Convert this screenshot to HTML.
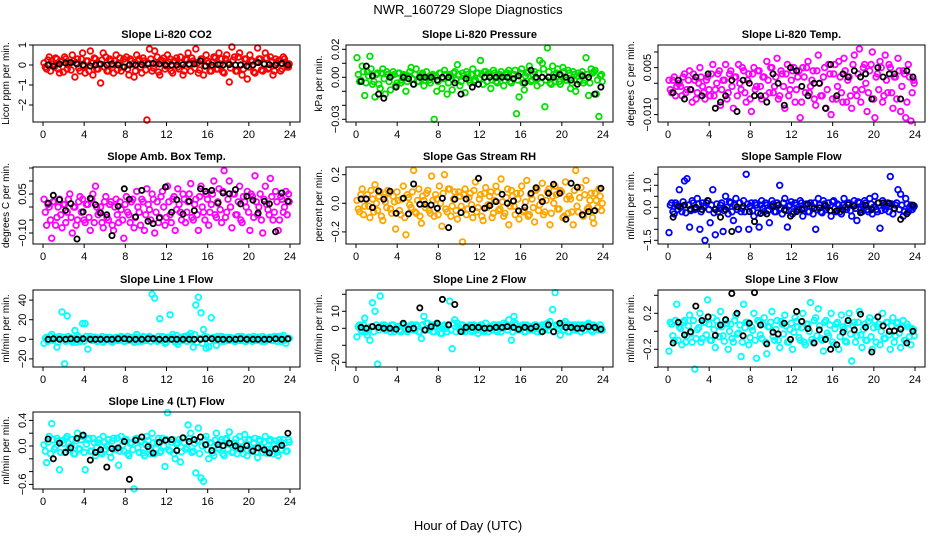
<!DOCTYPE html>
<html><head><meta charset="utf-8"><title>NWR_160729 Slope Diagnostics</title>
<style>
html,body{margin:0;padding:0;background:#fff;}
svg{display:block;font-family:"Liberation Sans","DejaVu Sans",sans-serif;}
</style></head>
<body>
<svg id="chart" width="936" height="540" viewBox="0 0 936 540" xmlns="http://www.w3.org/2000/svg">
<text x="468" y="14" text-anchor="middle" font-size="13">NWR_160729  Slope Diagnostics</text>
<text x="468" y="530" text-anchor="middle" font-size="13">Hour of Day (UTC)</text>
</svg>
<script>
const hours=[0.10,0.35,0.60,0.85,1.10,1.35,1.60,1.85,2.10,2.35,2.60,2.85,3.10,3.35,3.60,3.85,4.10,4.35,4.60,4.85,5.10,5.35,5.60,5.85,6.10,6.35,6.60,6.85,7.10,7.35,7.60,7.85,8.10,8.35,8.60,8.85,9.10,9.35,9.60,9.85,10.10,10.35,10.60,10.85,11.10,11.35,11.60,11.85,12.10,12.35,12.60,12.85,13.10,13.35,13.60,13.85,14.10,14.35,14.60,14.85,15.10,15.35,15.60,15.85,16.10,16.35,16.60,16.85,17.10,17.35,17.60,17.85,18.10,18.35,18.60,18.85,19.10,19.35,19.60,19.85,20.10,20.35,20.60,20.85,21.10,21.35,21.60,21.85,22.10,22.35,22.60,22.85,23.10,23.35,23.60,23.85];
const hours2=[0.22,0.48,0.73,0.97,1.22,1.47,1.73,1.98,2.22,2.47,2.73,2.98,3.22,3.47,3.73,3.98,4.22,4.47,4.73,4.98,5.22,5.47,5.73,5.98,6.22,6.47,6.73,6.98,7.22,7.47,7.73,7.98,8.22,8.47,8.73,8.98,9.22,9.47,9.73,9.98,10.22,10.47,10.73,10.98,11.22,11.47,11.73,11.98,12.22,12.47,12.73,12.98,13.22,13.47,13.73,13.98,14.22,14.47,14.73,14.98,15.22,15.47,15.73,15.98,16.22,16.47,16.73,16.98,17.22,17.47,17.73,17.98,18.22,18.47,18.73,18.98,19.22,19.47,19.73,19.98,20.22,20.47,20.73,20.98,21.22,21.47,21.73,21.98,22.22,22.47,22.73,22.98,23.22,23.47,23.73,23.92];
const blackHours=[0.5,1.0,1.6,2.2,2.7,3.3,3.9,4.6,5.1,5.6,6.2,6.7,7.3,7.9,8.4,9.0,9.6,10.2,10.7,11.3,11.9,12.5,13.0,13.6,14.2,14.7,15.3,15.8,16.4,17.0,17.5,18.1,18.7,19.2,19.8,20.4,20.9,21.5,22.0,22.6,23.2,23.8];
const xTicks=[0,4,8,12,16,20,24];

const co2=[0.1,-0.2,0.4,0.2,-0.1,0.3,-0.4,0.2,0.4,-0.2,0.1,0.5,-0.6,0.3,-0.3,0.6,-0.4,0.2,0.7,-0.5,0.3,-0.2,-0.9,0.6,0.4,-0.3,0.2,-0.4,0.5,0.1,-0.3,0.3,0.4,-0.5,0.2,-0.6,0.5,0.3,-0.4,0.2,-2.75,0.8,-0.3,0.7,0.4,-0.5,0.2,-0.2,0.5,0.3,-0.4,0.2,-0.1,0.4,-0.5,0.3,0.6,-0.3,0.2,0.8,-0.4,0.3,-0.5,0.5,0.1,-0.3,0.4,-0.2,0.6,0.3,-0.4,0.5,-0.85,0.9,0.4,-0.3,0.6,-0.5,0.3,-0.7,0.5,0.2,-0.4,0.85,0.3,-0.3,0.6,-0.2,0.4,-0.5,0.3,0.2,-0.3,0.4,0.1,-0.1];
const co2B=[-0.1,0.25,-0.3,0.05,0.35,-0.2,0.15,-0.35,0.3,0.0,-0.25,0.2,0.1,-0.15,0.3,-0.05,0.2,-0.3,0.1,0.35,-0.2,0.05,0.25,-0.1,-0.3,0.3,0.0,0.2,-0.25,0.35,-0.1,0.15,-0.2,0.3,0.05,-0.3,0.2,-0.1,0.35,-0.25,0.1,0.3,-0.15,0.05,-0.35,0.25,0.35,-0.05,0.15,-0.3,0.2,0.35,-0.2,0.1,-0.3,0.25,0.0,0.35,-0.15,0.1,-0.25,0.3,-0.05,0.2,-0.3,0.15,0.35,-0.2,0.05,-0.35,0.3,0.1,-0.15,0.25,-0.3,0.4,0.0,-0.2,0.3,-0.1,0.2,-0.35,0.15,0.3,-0.25,0.05,0.35,-0.15,0.2,-0.3,0.1,0.25,-0.2,0.3,-0.1,0.05];
const co2Black=[0,-0.05,0.05,0.1,0.12,0.05,0,-0.05,0,0.05,0,0.05,0,-0.1,0,0,0.02,0.05,0.08,0.05,0,0,0,0.02,0.05,0.05,0.2,-0.05,0,0.02,0,0.02,0,0,-0.05,0,0.12,0.05,0.02,0,0.08,0];

const press=[0.014,-0.003,0.008,-0.013,0.004,0.015,-0.005,-0.014,0.003,-0.008,0.006,-0.012,0.002,-0.009,0.004,-0.006,0.003,-0.004,0.002,-0.01,0.001,0.007,-0.005,0.006,-0.003,0.002,-0.006,0.004,-0.002,0.001,-0.03,-0.01,0.003,-0.008,0.005,-0.012,0.002,-0.009,0.004,0.009,-0.006,0.003,-0.011,0.002,-0.004,0.006,-0.002,0.003,0.012,-0.005,0.004,0.003,-0.008,0.005,-0.003,0.002,0.004,-0.006,0.003,0.005,-0.004,0.002,-0.026,-0.014,0.006,-0.009,0.003,0.008,-0.002,0.004,-0.006,0.012,0.01,-0.021,0.021,-0.004,0.008,-0.003,0.006,-0.005,0.007,-0.002,0.005,-0.008,0.004,-0.01,0.003,0.002,-0.004,0.014,-0.013,0.006,0.004,-0.012,-0.028,0.002];
const pressB=[0.002,-0.002,0.004,-0.004,0.001,0.006,-0.003,0.002,-0.005,0.003,-0.001,0.004,-0.003,0.001,0.002,-0.004,0.003,-0.002,0.001,-0.003,0.004,-0.001,0.002,-0.003,0.001,0.003,-0.002,0.0,-0.004,0.002,0.001,-0.003,0.003,-0.001,0.002,-0.004,0.001,0.003,-0.002,0.002,-0.003,0.001,0.004,-0.002,0.002,-0.003,0.003,-0.001,0.002,0.004,-0.003,0.001,-0.002,0.003,-0.004,0.002,0.001,-0.002,0.003,-0.003,0.002,0.005,-0.002,0.003,-0.004,0.001,0.004,-0.003,0.002,-0.001,0.003,-0.004,0.006,-0.002,0.004,-0.005,0.002,0.003,-0.003,0.001,0.004,-0.002,0.003,-0.004,0.002,0.001,-0.003,0.004,-0.002,0.002,-0.004,0.003,0.005,-0.002,0.001,-0.003];
const pressBlack=[-0.003,0.008,0.001,-0.012,-0.015,0,-0.007,0,-0.001,-0.005,0,0,0,-0.002,0,0,-0.004,-0.012,-0.001,-0.007,-0.005,0,0,0,0,0,-0.001,0.001,-0.004,0.005,0,0,0,0,0.002,0,-0.002,-0.005,0.001,0,-0.012,-0.007];

const temp=[0.001,-0.003,0.002,-0.001,0.000,-0.004,0.003,-0.002,0.004,-0.006,0.001,-0.003,0.005,-0.001,-0.005,0.002,-0.004,0.006,-0.002,0.003,-0.007,0.001,0.006,-0.003,0.004,-0.008,0.002,0.006,-0.002,0.004,-0.006,0.003,-0.009,0.005,-0.001,0.004,-0.005,0.002,0.007,-0.003,0.005,-0.001,0.008,-0.004,0.003,-0.008,0.006,-0.002,0.004,-0.006,0.002,-0.011,0.005,-0.003,0.007,-0.001,0.004,-0.007,0.009,-0.004,0.002,-0.008,0.006,-0.010,0.003,-0.005,0.007,-0.003,0.008,-0.006,0.002,-0.008,0.009,-0.004,0.011,-0.002,0.006,-0.009,0.004,0.010,-0.011,0.003,0.007,-0.006,0.009,-0.003,0.005,-0.008,0.002,0.008,-0.009,0.004,-0.011,0.006,-0.012,0.001];
const tempB=[-0.002,0.001,-0.004,0.000,-0.001,0.002,-0.003,0.001,-0.002,0.003,-0.005,0.000,0.002,-0.003,0.001,-0.002,0.003,-0.004,0.000,0.004,-0.002,0.001,-0.005,0.003,-0.001,0.002,-0.004,0.000,0.005,-0.003,0.001,-0.005,0.003,-0.002,0.004,-0.001,0.002,-0.004,0.001,0.005,-0.003,0.002,-0.005,0.004,-0.001,0.003,-0.004,0.001,0.005,-0.002,0.004,-0.006,0.002,0.005,-0.003,0.001,-0.005,0.004,0.000,-0.004,0.005,-0.002,0.003,-0.005,0.006,-0.001,0.002,-0.006,0.004,0.001,-0.004,0.006,-0.002,0.003,-0.006,0.005,0.000,-0.003,0.006,-0.005,0.002,-0.002,0.005,-0.004,0.001,0.006,-0.003,0.002,-0.005,0.004,-0.001,0.003,-0.006,0.002,-0.003,0.000];
const tempBlack=[-0.003,0.001,-0.005,-0.002,0.002,-0.004,0.003,-0.008,-0.006,-0.004,0.001,-0.009,0.001,0.000,-0.004,-0.004,-0.006,0.003,0.000,-0.007,0.005,0.004,-0.001,-0.004,0.000,0.000,-0.008,0.006,-0.004,0.003,0.002,0.004,0.002,0.003,-0.005,0.005,0.002,0.003,0.003,-0.005,0.004,0.002];

const amb=[0.03,-0.07,0.0,-0.12,0.02,-0.04,0.03,-0.08,0.01,-0.02,0.05,-0.1,0.0,-0.05,0.04,0.03,-0.06,0.01,-0.09,0.05,0.08,-0.03,0.0,-0.08,0.04,-0.05,0.02,-0.09,0.03,-0.06,-0.01,-0.12,0.04,-0.03,0.02,-0.08,0.06,-0.02,0.03,-0.09,0.07,-0.01,0.05,-0.1,0.02,-0.04,0.06,-0.07,0.08,-0.03,0.03,-0.09,0.07,-0.02,0.05,-0.06,0.02,0.09,-0.05,0.03,-0.09,0.08,-0.02,0.05,-0.07,0.01,0.1,-0.04,0.07,-0.06,0.14,-0.02,0.1,-0.08,0.05,-0.03,0.08,-0.06,0.02,0.06,-0.09,0.04,0.12,-0.03,0.05,-0.1,0.08,-0.01,0.11,-0.05,0.06,-0.09,0.04,-0.02,0.06,0.05];
const ambB=[-0.02,0.01,-0.05,0.02,-0.07,0.0,-0.03,0.01,-0.06,0.03,-0.04,0.0,-0.07,0.02,-0.02,-0.05,0.01,-0.04,0.03,-0.06,0.0,-0.02,-0.06,0.02,-0.04,0.01,-0.07,0.0,-0.03,0.02,-0.05,0.01,-0.02,-0.06,0.03,-0.04,0.0,-0.07,0.02,-0.03,0.01,-0.05,0.03,-0.02,-0.06,0.04,0.0,-0.04,0.02,-0.06,0.04,-0.01,0.01,-0.05,0.03,-0.02,0.05,-0.04,0.01,-0.03,0.04,0.0,-0.05,0.03,-0.02,0.05,-0.03,0.02,-0.01,0.06,-0.04,0.03,0.0,0.05,-0.03,0.02,-0.05,0.04,0.0,-0.02,0.05,-0.04,0.02,0.0,-0.05,0.03,0.01,-0.03,0.04,-0.02,0.02,-0.05,0.03,0.0,-0.03,0.02];
const ambBlack=[0.015,0.045,0.028,-0.013,0.013,-0.123,-0.019,0.033,0.009,-0.023,-0.03,-0.11,0.003,0.07,0.03,-0.038,0.064,-0.055,-0.064,-0.042,0.077,-0.02,0.028,-0.027,0.022,-0.014,0.07,0.06,0.064,0.015,0.054,0.051,0.067,0.012,0.041,0.026,-0.023,0.022,0.012,-0.095,0.054,0.022];

const rh=[0.02,-0.06,0.1,-0.02,0.06,-0.1,0.03,0.13,-0.05,0.08,-0.12,0.01,0.09,-0.04,0.05,-0.18,0.02,-0.08,0.12,-0.22,0.04,-0.03,0.23,-0.07,0.1,-0.14,0.02,0.07,-0.05,0.19,-0.09,0.03,0.12,-0.16,0.2,-0.06,0.1,-0.02,0.08,-0.11,0.05,-0.27,0.1,-0.04,0.07,-0.1,0.15,-0.03,0.06,-0.12,0.11,-0.01,0.08,-0.07,0.12,-0.05,0.17,-0.09,0.04,-0.15,0.09,-0.02,0.07,-0.11,0.12,-0.05,0.16,-0.08,0.03,-0.13,0.1,-0.01,0.14,-0.06,0.08,-0.15,0.05,0.12,-0.04,0.09,-0.1,0.15,-0.07,0.03,-0.15,0.23,-0.06,0.11,-0.09,0.16,-0.03,0.07,-0.14,0.02,0.1,-0.05];
const rhB=[-0.04,0.06,-0.08,0.03,-0.02,0.09,-0.06,0.0,0.05,-0.09,0.04,-0.03,0.07,-0.07,0.01,0.08,-0.05,0.03,-0.1,0.06,-0.01,0.08,-0.06,0.02,-0.09,0.05,-0.03,0.09,-0.07,0.02,0.06,-0.08,0.0,0.07,-0.04,0.1,-0.09,0.03,-0.05,0.08,-0.02,0.06,-0.08,0.04,-0.01,0.09,-0.06,0.03,-0.09,0.07,-0.03,0.05,-0.1,0.02,0.08,-0.04,0.01,-0.07,0.1,-0.02,0.05,-0.08,0.03,0.07,-0.06,0.01,-0.09,0.06,-0.03,0.09,-0.05,0.04,-0.08,0.02,0.1,-0.07,0.0,0.06,-0.04,0.08,-0.09,0.03,0.05,-0.06,0.09,-0.02,0.04,-0.08,0.06,-0.04,0.02,-0.1,0.07,-0.03,0.05,0.0];
const rhBlack=[0.03,0.03,-0.03,0.086,0.028,0.084,-0.07,0.035,-0.074,0.135,-0.007,-0.007,-0.012,-0.035,0.035,-0.17,0.028,-0.065,0.03,-0.042,0.175,-0.035,-0.016,0.012,0.063,0,0.016,-0.053,-0.028,0.07,0.109,0.012,0.07,0.133,0.07,-0.112,0.14,0.112,-0.081,-0.058,-0.051,0.105];

const flow=[-1.15,0.2,-0.3,0.1,0.8,-0.2,1.2,1.3,-0.9,0.3,-0.1,0.4,-1.0,0.2,-1.5,0.3,-0.7,0.8,-1.25,-0.2,0.1,-1.1,0.5,-0.3,0.2,-0.6,0.4,-1.0,-0.2,0.3,1.5,-1.0,0.2,-0.4,0.1,-0.9,0.3,-0.2,0.1,-0.7,0.3,-0.2,0.2,1.0,-0.3,0.4,-0.9,0.1,-0.3,0.2,-0.1,0.3,-0.4,0.1,-0.2,0.2,-0.3,-1.0,0.4,-0.2,0.3,-0.1,0.2,-0.4,0.3,-0.2,0.1,-0.3,0.4,-0.1,0.2,-0.4,0.3,-0.6,0.2,-0.2,0.3,-0.1,0.4,-0.3,0.5,-0.2,-0.95,0.3,-0.1,0.2,1.4,-0.3,0.1,0.8,0.6,-0.4,0.4,-0.2,0.1,0.0];
const flowB=[0.1,-0.2,0.2,-0.1,0.0,0.25,-0.25,0.1,-0.15,0.2,-0.05,0.15,-0.2,0.05,0.2,-0.1,0.1,-0.25,0.15,-0.05,0.2,-0.15,0.0,0.25,-0.2,0.1,-0.1,0.2,-0.05,-0.2,0.15,0.05,-0.15,0.2,-0.25,0.1,-0.05,0.2,-0.15,0.05,0.15,-0.2,0.1,-0.05,0.2,-0.15,0.05,0.25,-0.2,0.1,-0.1,0.2,-0.05,0.15,-0.2,0.05,0.2,-0.1,0.1,-0.25,0.15,0.0,-0.15,0.25,-0.05,0.15,-0.2,0.1,0.0,0.2,-0.15,0.1,-0.05,0.25,-0.1,0.05,0.2,-0.2,0.15,0.0,-0.1,0.2,-0.15,0.1,0.05,-0.2,0.15,-0.05,0.2,-0.1,0.1,-0.2,0.15,0.0,-0.1,0.05];
const flowBlack=[-0.45,0.05,0.1,-0.08,0,-0.1,0.3,-0.1,-0.45,-0.1,-1.1,0.02,0.05,-0.2,-0.65,-0.28,-0.3,0.05,0.1,-0.12,-0.4,-0.2,-0.1,0.15,-0.05,-0.02,0.08,-0.15,-0.15,-0.12,0.12,0.05,-0.25,0.1,-0.1,0.2,0.2,0.18,-0.05,-0.55,-0.3,0.1];

const line1=[-4,2,-1,5,1,-8,3,28,-25,24,2,-3,9,4,-2,16,16,-10,3,-1,2,-2,1,-3,2,0,-2,1,2,-1,3,-2,1,-1,2,-3,5,1,-2,2,-1,3,46,42,-2,21,3,-4,2,25,5,-3,-5,2,-1,3,4,6,-8,35,43,27,10,-9,-8,22,2,-6,1,3,-2,2,-1,1,-2,2,-1,3,-2,1,2,-2,1,2,-1,3,-2,1,2,-1,2,3,-2,4,-4,1];
const line1B=[1,-2,3,-1,2,-3,1,2,-2,3,-1,1,-3,2,0,-2,3,1,-1,2,-2,1,3,-1,0,2,-3,1,-1,2,1,-2,3,0,-1,2,-2,1,3,-1,2,-2,1,0,3,-1,2,-3,1,2,-1,4,-2,1,3,-2,2,-1,5,-3,1,-4,3,2,-2,1,-1,3,-2,2,0,-1,2,1,-2,3,-1,1,-2,2,0,3,-1,2,-2,1,0,2,-1,3,-2,1,2,-1,0,1];
const line1Black=[0,0.5,0,0,0.5,0,0.5,0,0,0,0,0,0.5,0.5,0,0,0,0.5,0.5,0,0,0,0,0,0,0,0,0.5,0.5,0,0,0,0,0.5,0,0,0,0,0,0.5,0,0.5];

const line2=[-5,2,-2,6,-4,-7,15,10,-21,19,2,-1,1,-2,2,0,1,-2,2,-1,1,2,-1,2,-2,-6,7,3,-1,2,-2,3,1,-3,2,-2,16,-12,5,3,-1,2,-2,1,2,-1,1,-3,2,-1,3,-2,1,2,-1,2,-2,3,1,5,-7,7,2,-1,1,-2,2,-1,1,2,-2,1,2,-1,3,4,11,21,2,-4,3,4,-2,2,1,-1,2,-2,1,2,3,-1,2,1,-1,0];
const line2B=[1,-1,2,-2,0,1,-2,2,-1,1,2,-1,0,2,-2,1,-1,2,0,-2,1,2,-1,1,-2,2,-1,3,0,-2,1,2,-3,1,0,2,-1,3,-2,1,2,-1,0,1,-2,2,-1,1,2,-2,0,1,-1,2,-2,1,0,2,-1,1,-2,3,-1,0,2,-2,1,1,-1,2,0,-2,1,2,-1,1,-2,2,0,1,-1,2,-2,1,2,-1,0,2,-1,1,2,-2,1,0,2,-1];
const line2Black=[0.5,0,1,0.5,0,0,-0.5,3,-0.5,0,12,-1,1,3,17,2,14,-2,0.5,0.5,0.5,0,0,0.5,0.5,1,0.5,-0.5,0.5,0,1,-2,2,-2,3,0.5,0.5,0,0,1,0.5,-0.5];

const line3=[-0.22,0.08,-0.1,0.3,0.05,-0.15,0.12,-0.05,0.18,-0.12,-0.42,0.02,0.2,-0.08,0.1,0.35,-0.1,0.15,-0.18,0.06,0.22,-0.05,0.12,-0.2,0.08,-0.12,0.18,-0.02,-0.28,0.3,0.1,-0.15,0.05,0.2,-0.3,0.1,-0.08,0.15,-0.25,0.05,0.22,-0.1,0.12,-0.18,0.08,0.18,-0.12,0.02,-0.2,0.15,0.05,-0.1,0.2,-0.15,0.08,0.32,-0.12,0.15,0.25,-0.08,-0.22,0.12,-0.05,0.2,-0.15,0.08,-0.2,0.18,0.02,-0.12,0.2,-0.33,0.1,-0.05,0.22,-0.18,0.08,-0.1,0.15,-0.2,0.12,0.05,-0.15,0.2,-0.08,0.1,-0.2,0.15,-0.05,0.1,-0.18,0.12,-0.1,0.05,-0.15,0.02];
const line3B=[0.1,-0.05,0.12,-0.1,0.03,0.1,-0.12,0.06,-0.02,0.12,-0.08,0.04,-0.12,0.1,-0.04,0.08,-0.1,0.02,0.12,-0.06,0.05,-0.11,0.09,0.0,-0.08,0.12,-0.03,0.07,-0.12,0.04,0.1,-0.07,0.01,-0.1,0.12,-0.04,0.08,-0.12,0.05,0.1,-0.06,0.02,-0.1,0.11,-0.03,0.06,-0.12,0.09,-0.01,0.11,-0.07,0.04,-0.12,0.08,0.0,-0.09,0.12,-0.05,0.06,-0.1,0.1,-0.02,0.07,-0.12,0.03,0.1,-0.06,0.05,-0.11,0.09,-0.03,0.06,-0.12,0.1,-0.04,0.02,-0.1,0.11,-0.06,0.04,-0.12,0.08,0.0,-0.08,0.1,-0.04,0.06,-0.12,0.09,-0.02,0.04,-0.1,0.08,-0.06,0.03,-0.05];
const line3Black=[-0.13,0.1,-0.04,-0.005,0.28,0.12,0.16,-0.045,0.07,0.13,0.42,0.2,-0.05,0.09,0.43,0.07,-0.14,-0.01,-0.03,0.09,-0.09,0.22,0.11,0.03,-0.13,0.015,-0.09,-0.2,-0.15,-0.01,0.12,0.015,0.19,0.045,-0.23,0.16,0.06,0,0.005,0.025,-0.13,0];

const line4=[0.02,-0.26,0.15,0.35,-0.05,0.12,-0.37,0.08,-0.1,0.15,-0.02,0.1,-0.12,0.2,-0.05,0.15,-0.37,0.1,-0.08,0.12,-0.15,0.05,-0.1,0.15,-0.05,0.1,-0.18,0.12,-0.05,-0.3,0.15,-0.08,0.1,-0.15,0.05,-0.67,0.12,-0.1,0.08,-0.15,0.15,-0.05,0.2,-0.12,0.05,-0.1,0.12,-0.32,0.52,-0.08,0.1,-0.2,0.05,-0.25,0.12,-0.05,0.33,0.2,-0.08,-0.42,0.28,-0.5,-0.55,0.15,-0.2,0.05,-0.15,0.2,-0.05,0.1,-0.15,0.12,0.22,-0.1,0.05,-0.12,0.15,-0.05,0.18,-0.15,0.1,-0.05,0.12,-0.18,0.08,-0.1,0.15,-0.05,0.1,-0.12,0.08,-0.15,0.05,0.1,-0.08,0.1];
const line4B=[-0.08,0.06,-0.12,0.1,-0.02,0.08,-0.1,0.04,0.12,-0.06,0.0,-0.12,0.08,-0.04,0.1,-0.1,0.03,0.12,-0.08,0.05,-0.02,0.1,-0.12,0.06,0.0,-0.1,0.08,-0.05,0.12,-0.08,0.02,0.1,-0.12,0.04,-0.06,0.11,-0.03,0.07,-0.11,0.02,0.09,-0.12,0.05,-0.04,0.12,-0.08,0.0,0.1,-0.06,0.06,-0.12,0.03,0.1,-0.09,0.05,-0.02,0.12,-0.1,0.04,0.08,-0.12,0.0,0.1,-0.06,0.05,-0.11,0.09,-0.03,0.06,-0.12,0.1,-0.05,0.02,-0.09,0.11,-0.04,0.07,-0.12,0.03,0.09,-0.07,0.05,-0.1,0.1,-0.02,0.06,-0.11,0.08,-0.04,0.03,-0.1,0.1,-0.06,0.04,-0.08,0.06];
const line4Black=[0.11,-0.2,0.045,-0.1,-0.03,0.12,0.17,-0.22,-0.1,-0.06,-0.33,-0.04,-0.03,0.07,-0.52,0.09,0.14,-0.01,-0.11,0.06,0.09,0.1,-0.07,0.13,0.07,0.1,0.14,0.02,-0.07,0.02,0.005,0.045,0,-0.045,0.005,-0.08,-0.03,-0.06,-0.11,-0.045,0.01,0.2];

const NS='http://www.w3.org/2000/svg';
const svg=document.getElementById('chart');
const colLeft=[33,346,658], rowTop=[45,167,290,412], boxW=267, boxH=77;
const panels=[
 {slug:'co2',title:'Slope Li-820 CO2',ylab:'Licor ppm per min.',c:0,r:0,vals:co2,vals2:co2B,blk:co2Black,color:'#ff0000',yZero:20,yScale:20,ticks:[1,0,-1,-2],labels:['1','0','\u22121','\u22122']},
 {slug:'pressure',title:'Slope Li-820 Pressure',ylab:'kPa per min.',c:1,r:0,vals:press,vals2:pressB,blk:pressBlack,color:'#00e000',yZero:32.3,yScale:1400,ticks:[0.02,0.01,0,-0.01,-0.02,-0.03],labels:['0.02','','0.00','','','\u22120.03']},
 {slug:'li820-temp',title:'Slope Li-820 Temp.',ylab:'degrees C per min.',c:2,r:0,vals:temp,vals2:tempB,blk:tempBlack,color:'#ff00ff',yZero:38.3,yScale:3130,ticks:[0.01,0.005,0,-0.005,-0.01],labels:['','0.005','','','\u22120.010']},
 {slug:'amb-box-temp',title:'Slope Amb. Box Temp.',ylab:'degrees C per min.',c:0,r:1,vals:amb,vals2:ambB,blk:ambBlack,color:'#ff00ff',yZero:40,yScale:260,ticks:[0.15,0.1,0.05,0,-0.05,-0.1],labels:['','','0.05','','','\u22120.10']},
 {slug:'gas-rh',title:'Slope Gas Stream RH',ylab:'percent per min.',c:1,r:1,vals:rh,vals2:rhB,blk:rhBlack,color:'#ffa500',yZero:36.3,yScale:143,ticks:[0.2,0,-0.2],labels:['0.2','0.0','\u22120.2']},
 {slug:'sample-flow',title:'Slope Sample Flow',ylab:'ml/min per min.',c:2,r:1,vals:flow,vals2:flowB,blk:flowBlack,color:'#0000ff',yZero:40.3,yScale:22,ticks:[1.5,1,0.5,0,-0.5,-1,-1.5],labels:['','1.0','','0.0','','','\u22121.5']},
 {slug:'line1-flow',title:'Slope Line 1 Flow',ylab:'ml/min per min.',c:0,r:2,vals:line1,vals2:line1B,blk:line1Black,color:'#00ffff',yZero:49.3,yScale:0.98,ticks:[40,20,0,-20],labels:['40','20','0','\u221220']},
 {slug:'line2-flow',title:'Slope Line 2 Flow',ylab:'ml/min per min.',c:1,r:2,vals:line2,vals2:line2B,blk:line2Black,color:'#00ffff',yZero:38.3,yScale:1.7,ticks:[20,10,0,-10,-20],labels:['','10','0','','\u221220']},
 {slug:'line3-flow',title:'Slope Line 3 Flow',ylab:'ml/min per min.',c:2,r:2,vals:line3,vals2:line3B,blk:line3Black,color:'#00ffff',yZero:41.3,yScale:90,ticks:[0.4,0.2,0,-0.2,-0.4],labels:['','0.2','','\u22120.2','']},
 {slug:'line4-flow',title:'Slope Line 4 (LT) Flow',ylab:'ml/min per min.',c:0,r:3,vals:line4,vals2:line4B,blk:line4Black,color:'#00ffff',yZero:34,yScale:64,ticks:[0.4,0.2,0,-0.2,-0.4,-0.6],labels:['0.4','','0.0','','','\u22120.6']}
];
function el(tag,attrs,parent){const e=document.createElementNS(NS,tag);for(const k in attrs)e.setAttribute(k,attrs[k]);parent.appendChild(e);return e;}
panels.forEach(p=>{
  const L=colLeft[p.c], T=rowTop[p.r];
  const x0=L+10, xs=247/24;
  const X=h=>x0+h*xs;
  const Y=v=>T+p.yZero-v*p.yScale;
  const g=el('g',{},svg);
  
  
  const t=el('text',{x:L+boxW/2,y:T-7,'text-anchor':'middle','font-size':'11','font-weight':'bold'},g);
  
  
  t.textContent=p.title;
  const yl=el('text',{transform:'translate('+(L-24)+','+(T+boxH/2)+') rotate(-90)','text-anchor':'middle','font-size':'10'},g);
  
  
  yl.textContent=p.ylab;
  const pts=el('g',{fill:'none',stroke:p.color,'stroke-width':'1.8'},g);
  
  
  for(let i=0;i<p.vals2.length&&i<hours2.length;i++){
    const c=el('circle',{cx:X(hours2[i]).toFixed(1),cy:Y(p.vals2[i]).toFixed(1),r:'2.8'},pts);
    
    
  }
  for(let i=0;i<p.vals.length&&i<hours.length;i++){
    const c=el('circle',{cx:X(hours[i]).toFixed(1),cy:Y(p.vals[i]).toFixed(1),r:'2.8'},pts);
    
    
  }
  const bp=el('g',{fill:'none',stroke:'#000','stroke-width':'1.8'},g);
  
  
  for(let i=0;i<p.blk.length&&i<blackHours.length;i++){
    const c=el('circle',{cx:X(blackHours[i]).toFixed(1),cy:Y(p.blk[i]).toFixed(1),r:'2.6'},bp);
    
    
  }
  const box=el('rect',{x:L,y:T,width:boxW,height:boxH,fill:'none',stroke:'#000','stroke-width':'1'},g);
  
  
  const xa=el('g',{stroke:'#000','stroke-width':'1'},g);
  
  
  xTicks.forEach(h=>{
    el('line',{x1:X(h),x2:X(h),y1:T+boxH,y2:T+boxH+4},xa);
    const tl=el('text',{x:X(h),y:T+boxH+16,'text-anchor':'middle','font-size':'11',stroke:'none'},xa);
    
    
    tl.textContent=String(h);
  });
  const ya=el('g',{stroke:'#000','stroke-width':'1'},g);
  
  
  p.ticks.forEach((v,i)=>{
    const y=Y(v);
    el('line',{x1:L-4,x2:L,y1:y,y2:y},ya);
    if(p.labels[i]){
      const tl=el('text',{transform:'translate('+(L-7)+','+y.toFixed(1)+') rotate(-90)','text-anchor':'middle','font-size':'11',stroke:'none'},ya);
      
      
      tl.textContent=p.labels[i];
    }
  });
});
</script>
</body></html>
